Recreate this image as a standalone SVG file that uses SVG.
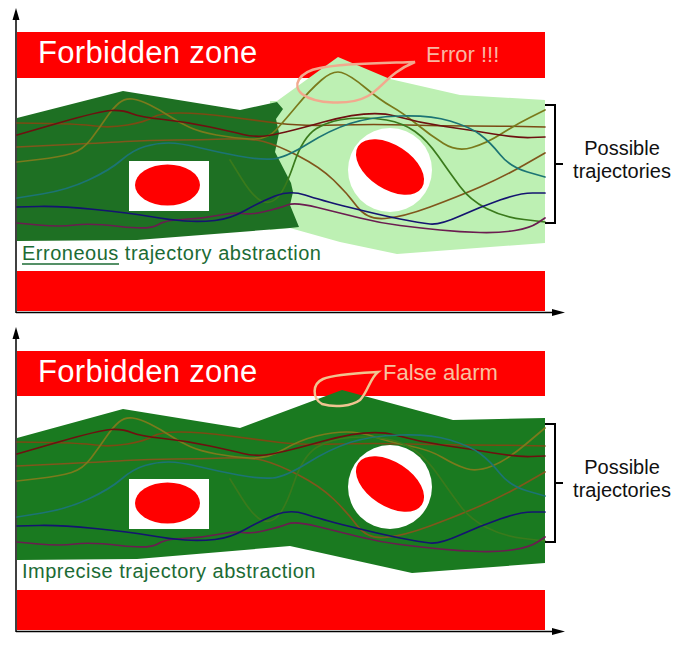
<svg xmlns="http://www.w3.org/2000/svg" xmlns:xlink="http://www.w3.org/1999/xlink" width="696" height="653" viewBox="0 0 696 653">
<style>
.band{fill:#ff0000}
.fz{font-family:"Liberation Sans",Arial,sans-serif;font-size:31px;fill:#ffffff;letter-spacing:0.3px}
.cap{font-family:"Liberation Sans",Arial,sans-serif;font-size:20px;fill:#1c6b34;letter-spacing:0.5px}
.lbl{font-family:"Liberation Sans",Arial,sans-serif;font-size:20px;fill:#111111;text-anchor:middle}
.note{font-family:"Liberation Sans",Arial,sans-serif;font-size:22px}
.tr{fill:none;stroke-width:1.7;stroke-linejoin:round;stroke-linecap:round}
.ax{stroke:#000;stroke-width:1.5;fill:none}
.br{stroke:#000;stroke-width:2;fill:none}
</style>
<defs>
<path id="c1" class="tr" stroke="#6e1010" d="M17,135 L58.5,123 Q100,111 111.5,110.5 Q123,110 131.5,113.5 Q140,117 163.5,119.5 Q187,122 210,127 Q233,132 243,134.5 Q253,137 265,136 Q277,135 323.5,122 Q370,109 395,116 Q420,123 445,126.5 Q470,130 493.5,134 Q517,138 531,137.5 L545,137"/>
<path id="c3" class="tr" stroke="#7b4a14" d="M17,123 L48.5,123.5 Q80,124 95,126 Q110,128 127.5,125 Q145,122 152.5,117.5 Q160,113 180,113 Q200,113 230,117 Q260,121 280,123.5 Q300,126 337.5,125 Q375,124 407.5,125 Q440,126 470,126 Q500,126 522.5,126.5 L545,127"/>
<path id="c4" class="tr" stroke="#80561c" d="M17,147 L58.5,145 Q100,143 125,141.5 Q150,140 175,140 Q200,140 225,139 Q250,138 263.5,141.5 Q277,145 298.5,156 Q320,167 333.5,180 Q347,193 357,206.5 Q367,220 385,218.5 Q403,217 430,207 Q457,197 480,187 Q503,177 524,165 L545,153"/>
<path id="c5" class="tr" stroke="#1c7474" d="M17,198 L42,194 Q67,190 88.5,180 Q110,170 121.5,160 Q133,150 145,146.5 Q157,143 168.5,143 Q180,143 198.5,147.5 Q217,152 238.5,156 Q260,160 272.5,159 Q285,158 307.5,144 Q330,130 350,123.5 Q370,117 400,116 Q430,115 450,121 Q470,127 480,134.5 Q490,142 500,154.5 Q510,167 527.5,172 L545,177"/>
<path id="c6" class="tr" stroke="#141470" d="M17,207 L38.5,206.5 Q60,206 95,209.5 Q130,213 150,216.5 Q170,220 185,221 Q200,222 215,220.5 Q230,219 245,210.5 Q260,202 275,196 Q290,190 305,195 Q320,200 350,207.5 Q380,215 400,219 Q420,223 430,224 Q440,225 460,216 Q480,207 500,200 Q520,193 532.5,193 L545,193"/>
<path id="c7" class="tr" stroke="#6b1c50" d="M17,223 L38.5,225 Q60,227 75,225 Q90,223 120,226.5 Q150,230 157.5,225 Q165,220 182.5,219.5 Q200,219 217.5,215.5 Q235,212 242.5,213.5 Q250,215 265,211.5 Q280,208 287.5,205 Q295,202 317.5,207.5 Q340,213 360,218 Q380,223 400,225.5 Q420,228 440,230 Q460,232 480,232.5 Q500,233 515,230.5 Q530,228 537.5,223 L545,218"/>
<path id="c8" class="tr" stroke="#3a7a1c" d="M230,160 L241.5,178.5 Q253,197 261.5,201 Q270,205 277.5,197.5 Q285,190 294,163.5 Q303,137 316.5,128.5 Q330,120 350,118.5 Q370,117 386.5,120 Q403,123 415,131.5 Q427,140 438.5,156.5 Q450,173 460,186.5 Q470,200 486.5,208.5 Q503,217 524,219.5 L545,222"/>
</defs>

<g id="top-panel">
  <g id="top-axes">
    <line class="ax" x1="16" y1="18" x2="16" y2="313"/>
    <polygon points="16,8 12.5,20 19.5,20" fill="#000"/>
    <line class="ax" x1="16" y1="312.5" x2="554" y2="312.5"/>
    <polygon points="565,312.5 552,309 552,316" fill="#000"/>
  </g>
  <g id="top-forbidden">
    <rect class="band" x="17" y="32" width="528" height="46"/>
    <rect class="band" x="17" y="271" width="528" height="40"/>
    <text class="fz" x="38" y="63">Forbidden zone</text>
  </g>
  <g id="top-abstraction">
    <polygon fill="#bdf0b3" points="270,101 277,101 338,57 390,79 460,95 545,100 545,243 397,254 340,242 290,228 270,230"/>
    <polygon fill="#1e7023" points="17,118 123,91 240,110 277,102 283,109 276,119 279,133 275,152 291,183 293,192 290,205 299,227 290,228 137,240 17,241"/>
  </g>
  <g id="top-trajectories">
    <use xlink:href="#c4"/>
    <use xlink:href="#c3"/>
    <path class="tr" stroke="#7a7a1c" d="M17,162 L38.5,159.5 Q60,157 71.5,153.5 Q83,150 91.5,138.5 Q100,127 106.5,117.5 Q113,108 119,103 Q125,98 132.5,99 Q140,100 150,105 Q160,110 170,116.5 Q180,123 190,127.5 Q200,132 216.5,135 Q233,138 250,139 Q267,140 276,130 Q285,120 297.5,105 Q310,90 321.5,80 Q333,70 341.5,72.5 Q350,75 365,87.5 Q380,100 391.5,106.5 Q403,113 416.5,124 Q430,135 443.5,143.5 Q457,152 472,147.5 Q487,143 501,134 Q515,125 530,117.5 L545,110"/>
    <use xlink:href="#c8"/>
    <use xlink:href="#c1"/>
    <use xlink:href="#c5"/>
    <use xlink:href="#c7"/>
    <use xlink:href="#c6"/>
  </g>
  <g id="top-obstacle-left">
    <rect x="129" y="161" width="80" height="50" fill="#fff"/>
    <ellipse cx="167.5" cy="185" rx="32.5" ry="20.5" fill="#ff0000"/>
  </g>
  <g id="top-obstacle-right">
    <circle cx="390" cy="170" r="42" fill="#fff"/>
    <ellipse cx="390" cy="167" rx="38" ry="22" transform="rotate(33 390 167)" fill="#ff0000"/>
  </g>
  <g id="top-error">
    <path d="M415,62 C390,63 345,63 320,68 C298,72 292,86 302,94 C315,104 350,106 368,96 C382,88 390,72 415,62 Z" fill="none" stroke="#f2a98e" stroke-width="2.5"/>
    <text class="note" x="426" y="62" fill="#f9b7a3">Error !!!</text>
  </g>
  <g id="top-caption">
    <text class="cap" x="22" y="260">Erroneous trajectory abstraction</text>
    <line x1="22" y1="264" x2="119" y2="264" stroke="#1c6b34" stroke-width="1.5"/>
  </g>
  <g id="top-bracket">
    <path class="br" d="M545,105 H555 V223 H545 M555,164 H563"/>
    <text class="lbl" x="622" y="155">Possible</text>
    <text class="lbl" x="622" y="178">trajectories</text>
  </g>
</g>

<g id="bottom-panel">
  <g id="bottom-axes">
    <line class="ax" x1="16" y1="337" x2="16" y2="632"/>
    <polygon points="16,327 12.5,339 19.5,339" fill="#000"/>
    <line class="ax" x1="16" y1="631.5" x2="554" y2="631.5"/>
    <polygon points="565,631.5 552,628 552,635" fill="#000"/>
  </g>
  <g id="bottom-forbidden">
    <rect class="band" x="17" y="351" width="528" height="45"/>
    <rect class="band" x="17" y="590" width="528" height="40"/>
    <text class="fz" x="38" y="382">Forbidden zone</text>
  </g>
  <g id="bottom-abstraction">
    <polygon fill="#1a7a20" points="17,438 123,409 240,428 342,390 453,420 545,418 545,563 412,573 290,546 137,559 17,560"/>
  </g>
  <g id="bottom-trajectories" transform="translate(0,319)">
    <use xlink:href="#c4"/>
    <use xlink:href="#c3"/>
    <path class="tr" stroke="#7a7a1c" d="M17,162 L38.5,159.5 Q60,157 71.5,153.5 Q83,150 91.5,138.5 Q100,127 106.5,117.5 Q113,108 119,103 Q125,98 132.5,99 Q140,100 150,105 Q160,110 170,116.5 Q180,123 190,127.5 Q200,132 216.5,135 Q233,138 250,139 Q267,140 283.5,130.5 Q300,121 316.5,117 Q333,113 346.5,113 Q360,113 375,118 Q390,123 410,127 Q430,131 442.5,138.5 Q455,146 466,149.5 Q477,153 492,147 Q507,141 526,125 L545,109"/>
    <use xlink:href="#c8"/>
    <use xlink:href="#c1"/>
    <use xlink:href="#c5"/>
    <use xlink:href="#c7"/>
    <use xlink:href="#c6"/>
  </g>
  <g id="bottom-obstacle-left">
    <rect x="129" y="479" width="80" height="50" fill="#fff"/>
    <ellipse cx="167.5" cy="503" rx="32.5" ry="20.5" fill="#ff0000"/>
  </g>
  <g id="bottom-obstacle-right">
    <circle cx="390" cy="487" r="42" fill="#fff"/>
    <ellipse cx="390" cy="484" rx="38" ry="22" transform="rotate(33 390 484)" fill="#ff0000"/>
  </g>
  <g id="bottom-alarm">
    <path d="M378,372 C360,373 335,374 323,379 C312,384 312,398 322,404 C335,408 352,406 360,400 C368,392 370,378 378,372 Z" fill="none" stroke="#f0c490" stroke-width="2.5"/>
    <text class="note" x="383" y="380" fill="#f8c2a0">False alarm</text>
  </g>
  <g id="bottom-caption">
    <text class="cap" x="22" y="578">Imprecise trajectory abstraction</text>
  </g>
  <g id="bottom-bracket">
    <path class="br" d="M545,424 H555 V542 H545 M555,483 H563"/>
    <text class="lbl" x="622" y="474">Possible</text>
    <text class="lbl" x="622" y="497">trajectories</text>
  </g>
</g>
</svg>
